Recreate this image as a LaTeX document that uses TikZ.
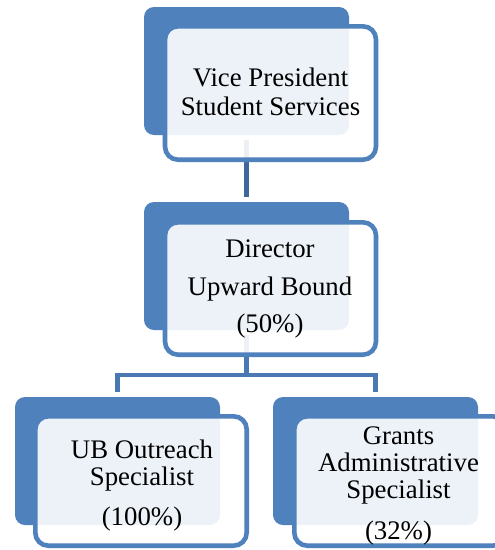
\documentclass[tikz,border=0pt]{standalone}
\usepackage{fontspec}
\setmainfont{Liberation Serif}
\definecolor{obl}{HTML}{4F81BD}
\definecolor{conn}{HTML}{4A78B2}
\definecolor{conndark}{HTML}{3F679C}
\begin{document}
\begin{tikzpicture}[x=1pt,y=-1pt,
  backbox/.style={rectangle,rounded corners=10pt,fill=obl,draw=none,inner sep=0pt,minimum width=205pt,minimum height=128pt},
  frontbox/.style={rectangle,rounded corners=13pt,draw=obl,line width=4.6pt,fill=white,fill opacity=0.9,draw opacity=1,inner sep=0pt,minimum width=211pt},
  conline/.style={draw=conn,line width=4.7pt},
  lbl/.style={anchor=base,inner sep=0pt,font=\fontsize{26.8}{29}\selectfont,text=black}]
\useasboundingbox[fill=white] (0,0) rectangle (495,550);
% back boxes
\node[backbox] (tb) at (246.5,71) {};
\node[backbox] (mb) at (246.5,266) {};
\node[backbox] (lb) at (117.5,461) {};
\node[backbox] (rb) at (375.5,461) {};
% connectors
\coordinate (j) at (246.5,375);
\draw[conline,draw=conndark,shorten <=5pt,shorten >=5pt] (tb.south) -- (mb.north);
\draw[conline,shorten <=5pt] (mb.south) -- (j);
\draw[conline,shorten >=5pt] (j) -| (lb.north);
\draw[conline,shorten >=5pt] (j) -| (rb.north);
% front boxes
\node[frontbox,minimum height=133.4pt] (tf) at (270.5,93) {};
\node[frontbox,minimum height=132.4pt] (mf) at (270.5,288.5) {};
\node[frontbox,minimum height=129.4pt,minimum width=211.4pt] (lf) at (141,481) {};
\node[frontbox,minimum height=129.4pt,minimum width=211.4pt] (rf) at (400,481) {};
% texts
\node[lbl] (t1) at (270.5,86) {Vice President};
\node[lbl] (t2) at (270.5,115) {Student Services};
\node[lbl] (m1) at (270,257) {Director};
\node[lbl] (m2) at (270,295) {Upward Bound};
\node[lbl] (m3) at (270,332) {(50\%)};
\node[lbl] (l1) at (142,458) {UB Outreach};
\node[lbl] (l2) at (142,485) {Specialist};
\node[lbl] (l3) at (142,525) {(100\%)};
\node[lbl] (r1) at (398.5,444) {Grants};
\node[lbl] (r2) at (398.5,471) {Administrative};
\node[lbl] (r3) at (398.5,498) {Specialist};
\node[lbl] (r4) at (398.5,539) {(32\%)};
\end{tikzpicture}
\end{document}
